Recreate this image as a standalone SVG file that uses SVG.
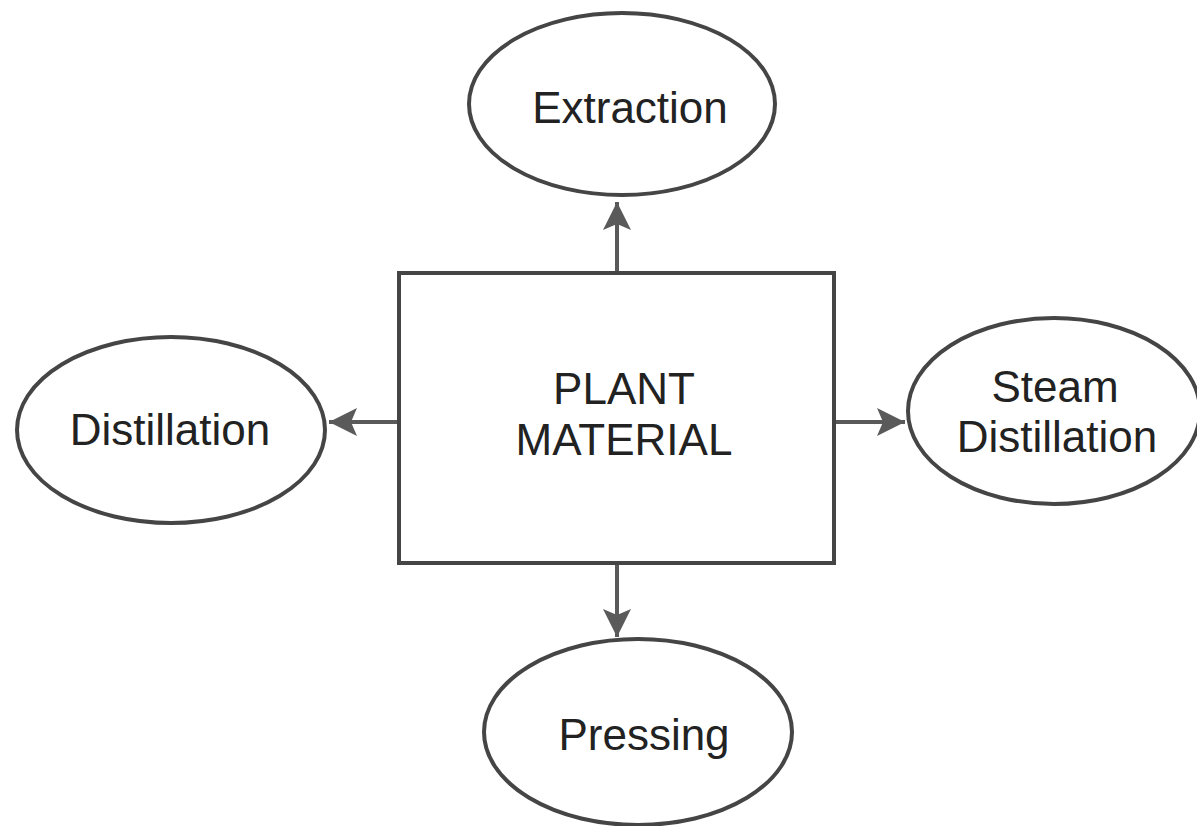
<svg xmlns="http://www.w3.org/2000/svg" width="1197" height="826" viewBox="0 0 1197 826">
<defs>
<style>
.node{fill:#fff;stroke:#454545;stroke-width:4}
.lbl{font-family:"Liberation Sans",Arial,sans-serif;font-size:44px;fill:#222;text-anchor:middle}
.conn{stroke:#5a5a5a;stroke-width:4;fill:none}
</style>
<marker id="ah" viewBox="0 0 30 30" refX="28" refY="15" markerWidth="30" markerHeight="30" markerUnits="userSpaceOnUse" orient="auto">
<path d="M0,1 L28,15 L0,29 L6,15 Z" fill="#5a5a5a"/>
</marker>
</defs>
<rect width="1197" height="826" fill="#fff"/>
<g id="connectors">
<line class="conn" x1="617" y1="273" x2="617" y2="202" marker-end="url(#ah)"/>
<line class="conn" x1="398" y1="422" x2="329" y2="422" marker-end="url(#ah)"/>
<line class="conn" x1="835" y1="422" x2="905" y2="422" marker-end="url(#ah)"/>
<line class="conn" x1="617" y1="563" x2="617" y2="637" marker-end="url(#ah)"/>
</g>
<g id="plant-material">
<rect class="node" x="399" y="273" width="435" height="290"/>
<text class="lbl" x="624" y="404">PLANT</text>
<text class="lbl" x="624" y="455">MATERIAL</text>
</g>
<g id="extraction">
<ellipse class="node" cx="622" cy="104" rx="153" ry="91"/>
<text class="lbl" x="630" y="123">Extraction</text>
</g>
<g id="distillation">
<ellipse class="node" cx="171" cy="430" rx="154" ry="93"/>
<text class="lbl" x="170" y="445">Distillation</text>
</g>
<g id="steam-distillation">
<ellipse class="node" cx="1054" cy="411" rx="146" ry="93"/>
<text class="lbl" x="1055" y="402">Steam</text>
<text class="lbl" x="1057" y="452">Distillation</text>
</g>
<g id="pressing">
<ellipse class="node" cx="638" cy="732" rx="154" ry="93"/>
<text class="lbl" x="644" y="750">Pressing</text>
</g>
</svg>
